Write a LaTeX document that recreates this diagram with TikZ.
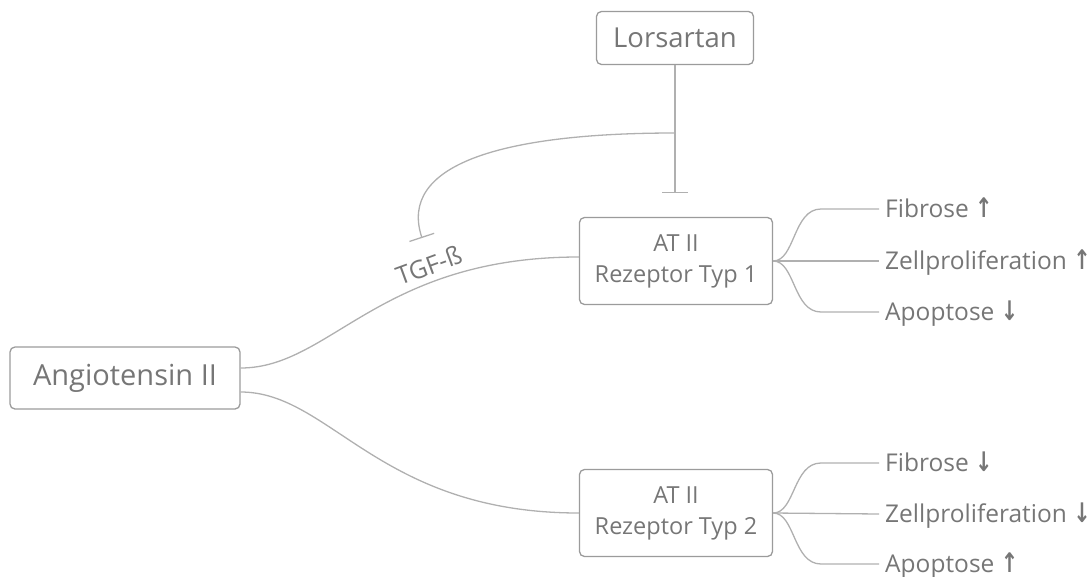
\documentclass[tikz,border=0pt]{standalone}
\usepackage{fontspec}
\setmainfont{Open Sans}
\newfontfamily\arrowfont{DejaVu Sans Bold}
\usetikzlibrary{arrows.meta}
\definecolor{inkgray}{RGB}{118,118,118}
\definecolor{boxgray}{RGB}{155,155,155}
\definecolor{wiregray}{RGB}{176,176,176}
\newcommand{\up}{\scalebox{0.85}[1.1]{\arrowfont\char"2191}}
\newcommand{\down}{\scalebox{0.85}[1.1]{\arrowfont\char"2193}}

\begin{document}
\begin{tikzpicture}[x=1pt,y=-1pt]

%
% Styles
%
\tikzstyle{agent} = [rectangle,rounded corners=5pt,draw=boxgray,line width=1.3pt,text=inkgray,align=center]
\tikzstyle{effect} = [text=inkgray,font=\fontsize{24.5}{28}\selectfont,anchor=west,inner xsep=6pt,inner ysep=0pt,text height=17.5pt,text depth=0pt]
\tikzstyle{link} = [draw=wiregray,line width=1.3pt]
\tikzstyle{block} = [-{Bar[width=26pt,line width=1.3pt]}]

\useasboundingbox (0,0) rectangle (1092,576);

\node[agent,minimum width=230pt,minimum height=62pt,font=\fontsize{29}{32}\selectfont] (angio) at (125,378) {Angiotensin II};
\node[agent,minimum width=157pt,minimum height=53pt,font=\fontsize{27.5}{30}\selectfont] (lors) at (675,38) {Lorsartan};
\node[agent,minimum width=193pt,minimum height=87pt,font=\fontsize{23.5}{31}\selectfont] (rez1) at (676,261) {AT II\\Rezeptor Typ 1};
\node[agent,minimum width=193pt,minimum height=87pt,font=\fontsize{23.5}{31}\selectfont] (rez2) at (676,513) {AT II\\Rezeptor Typ 2};

\node[effect] (fib1) at (879,209) {Fibrose \up};
\node[effect] (zell1) at (879,261) {Zellproliferation \up};
\node[effect] (apo1) at (879,312) {Apoptose \down};
\node[effect] (fib2) at (879,463) {Fibrose \down};
\node[effect] (zell2) at (879,514) {Zellproliferation \down};
\node[effect] (apo2) at (879,564) {Apoptose \up};

\coordinate (split) at (675,133);
\coordinate (lorsstop) at (675,193);
\coordinate (tgfstop) at (422,238);

% angiotensin to both receptors
\path[link] ([yshift=10pt]angio.east) .. controls +(90,0) and +(-200,0) .. ([yshift=4pt]rez1.west)
  node[pos=0.7,sloped,above=3pt,text=inkgray,font=\fontsize{25}{28}\selectfont] (tgf) {TGF-ß};
\path[link] ([yshift=-14pt]angio.east) .. controls +(90,0) and +(-200,0) .. (rez2.west);

% lorsartan blocks receptor and TGF-beta
\draw[link,block] (lors.south) -- (lorsstop);
\draw[link,block] (split) .. controls (500,133) and (398,165) .. (tgfstop);

% effects, type 1
\draw[link] (rez1.east) .. controls +(22,0) and +(-28,0) .. ([xshift=-58pt]fib1.west) -- (fib1.west);
\draw[link] (rez1.east) -- (zell1.west);
\draw[link] (rez1.east) .. controls +(22,0) and +(-28,0) .. ([xshift=-58pt]apo1.west) -- (apo1.west);

% effects, type 2
\draw[link] (rez2.east) .. controls +(22,0) and +(-28,0) .. ([xshift=-58pt]fib2.west) -- (fib2.west);
\draw[link] (rez2.east) -- (zell2.west);
\draw[link] (rez2.east) .. controls +(22,0) and +(-28,0) .. ([xshift=-58pt]apo2.west) -- (apo2.west);

\end{tikzpicture}
\end{document}
